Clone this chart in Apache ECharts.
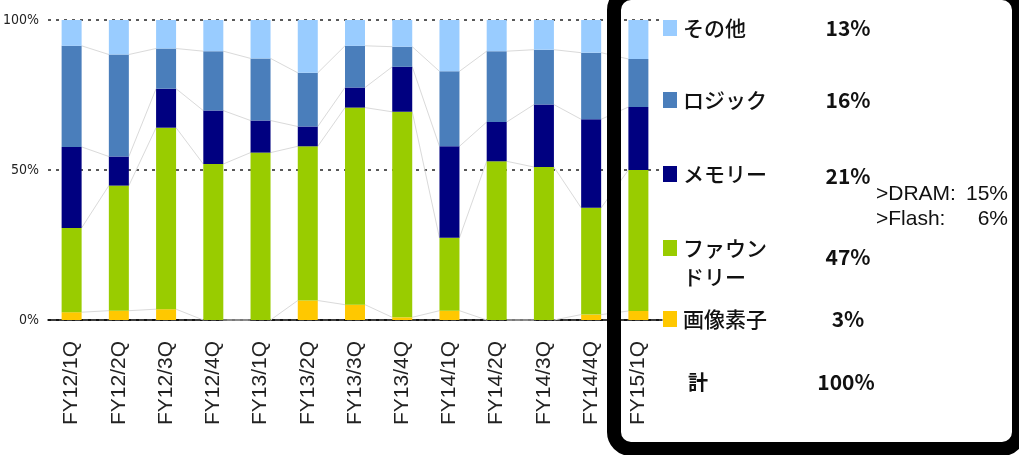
<!DOCTYPE html>
<html>
<head>
<meta charset="utf-8">
<script src="https://cdn.jsdelivr.net/npm/echarts@6/dist/echarts.min.js"></script>
<style>
html,body{margin:0;padding:0;background:#fff;}
#chart{width:1019px;height:455px;}
</style>
</head>
<body>
<div id="chart"></div>
<script>
// ---- data ----
const categories = ['FY12/1Q','FY12/2Q','FY12/3Q','FY12/4Q','FY13/1Q','FY13/2Q','FY13/3Q','FY13/4Q','FY14/1Q','FY14/2Q','FY14/3Q','FY14/4Q','FY15/1Q'];
const seriesNames = ['画像素子','ファウンドリー','メモリー','ロジック','その他'];
const imaging = [2.6, 3.1, 3.6, 0, 0, 6.5, 5.1, 0.9, 3.1, 0, 0, 1.8, 3];
const foundry = [28.1, 41.7, 60.5, 52.0, 55.8, 51.4, 65.7, 68.5, 24.3, 52.9, 51.0, 35.6, 47];
const memory  = [27.0, 9.7, 13.0, 17.8, 10.7, 6.6, 6.7, 15.0, 30.5, 13.1, 20.8, 29.5, 21];
const logic   = [33.7, 34.0, 13.4, 19.8, 20.7, 17.9, 13.9, 6.7, 25.0, 23.6, 18.3, 22.2, 16];
const other   = [8.6, 11.5, 9.5, 10.4, 12.8, 17.6, 8.6, 8.9, 17.1, 10.4, 9.9, 10.9, 13];
const memorySplitLabels = ['>DRAM:', '>Flash:'];
const memorySplitValues = [15, 6];
const yTicks = [0, 50, 100];

// ---- build ----
const colors = ['#FFC800', '#99CC00', '#000080', '#4A7EBB', '#99CCFF'];
const stack = [imaging, foundry, memory, logic, other];
const BAR_W = 20;

const cum = categories.map((_, i) => { let s = 0; return stack.map(a => (s += a[i])); });
const linkData = [];
for (let i = 0; i < categories.length - 1; i++) {
  linkData.push([i].concat(cum[i].slice(0, 4), cum[i + 1].slice(0, 4)));
}

const barSeries = stack.map((arr, k) => ({
  name: seriesNames[k],
  type: 'bar',
  stack: 'total',
  barWidth: BAR_W,
  data: arr,
  itemStyle: { color: colors[k] },
  z: 3
}));

const linkSeries = {
  type: 'custom',
  data: linkData,
  encode: { x: 0, y: 1 },
  silent: true,
  z: 1,
  renderItem(params, api) {
    const i = api.value(0);
    const children = [];
    for (let b = 0; b < 4; b++) {
      const p1 = api.coord([i, api.value(1 + b)]);
      const p2 = api.coord([i + 1, api.value(5 + b)]);
      children.push({
        type: 'line',
        shape: { x1: p1[0] + BAR_W / 2, y1: p1[1], x2: p2[0] - BAR_W / 2, y2: p2[1] },
        style: { stroke: '#dadada', lineWidth: 1 }
      });
    }
    return { type: 'group', children };
  }
};

// legend (graphic)
const last = categories.length - 1;
const legendRows = [
  { k: 4, lines: ['その他'], y: 28, py: 28 },
  { k: 3, lines: ['ロジック'], y: 100, py: 100 },
  { k: 2, lines: ['メモリー'], y: 174, py: 176 },
  { k: 1, lines: ['ファウン', 'ドリー'], y: 248, py: 257 },
  { k: 0, lines: ['画像素子'], y: 319, py: 319 }
];
const jpFont = '"Noto Sans CJK JP", sans-serif';
const graphics = [];
legendRows.forEach(r => {
  graphics.push({ type: 'rect', z: 50, shape: { x: 663, y: r.y - 8, width: 14, height: 16 }, style: { fill: colors[r.k] } });
  r.lines.forEach((t, j) => {
    graphics.push({ type: 'text', z: 50, x: 683, y: r.y + j * 29,
      style: { text: t, font: '500 21px ' + jpFont, fill: '#111', align: 'left', verticalAlign: 'middle', textAlign: 'left', textVerticalAlign: 'middle' } });
  });
  graphics.push({ type: 'text', z: 50, x: 848, y: r.py,
    style: { text: Math.round(stack[r.k][last]) + '%', font: 'bold 21px ' + jpFont, fill: '#111', align: 'center', verticalAlign: 'middle', textAlign: 'center', textVerticalAlign: 'middle' } });
});
const total = stack.reduce((s, a) => s + a[last], 0);
graphics.push({ type: 'text', z: 50, x: 688, y: 382,
  style: { text: '計', font: 'bold 20px ' + jpFont, fill: '#111', align: 'left', verticalAlign: 'middle', textAlign: 'left', textVerticalAlign: 'middle' } });
graphics.push({ type: 'text', z: 50, x: 846, y: 382,
  style: { text: Math.round(total) + '%', font: 'bold 21px ' + jpFont, fill: '#111', align: 'center', verticalAlign: 'middle', textAlign: 'center', textVerticalAlign: 'middle' } });
memorySplitLabels.forEach((lab, j) => {
  graphics.push({ type: 'text', z: 50, x: 876, y: 194 + j * 25,
    style: { text: lab, font: '21px "Liberation Sans", Arial, sans-serif', fill: '#111', align: 'left', verticalAlign: 'middle', textAlign: 'left', textVerticalAlign: 'middle' } });
  graphics.push({ type: 'text', z: 50, x: j === 0 ? 966 : 1008, y: 194 + j * 25,
    style: { text: memorySplitValues[j] + '%', font: '21px "Liberation Sans", Arial, sans-serif', fill: '#111', align: j === 0 ? 'left' : 'right', verticalAlign: 'middle', textAlign: j === 0 ? 'left' : 'right', textVerticalAlign: 'middle' } });
});
// panel frame
graphics.push({ type: 'rect', z: 60, shape: { x: 614, y: -7, width: 405, height: 456, r: 17 },
  style: { fill: 'none', stroke: '#000', lineWidth: 14 } });

const chart = echarts.init(document.getElementById('chart'), null, { renderer: 'canvas' });
chart.setOption({
  animation: false,
  backgroundColor: '#fff',
  grid: { left: 46, right: 357, top: 20, bottom: 135 },
  xAxis: {
    type: 'category',
    data: categories,
    axisTick: { show: false },
    axisLine: { lineStyle: { color: '#000', width: 1.5 } },
    axisLabel: { rotate: 90, margin: 21, fontSize: 21, color: '#222', fontFamily: '"Liberation Sans", Arial, sans-serif', interval: 0 }
  },
  yAxis: {
    type: 'value',
    min: yTicks[0],
    max: yTicks[yTicks.length - 1],
    interval: yTicks[1] - yTicks[0],
    axisLine: { show: false },
    axisTick: { show: false },
    axisLabel: { formatter: '{value}%', fontSize: 14, color: '#222', margin: 9, fontFamily: '"Liberation Sans Narrow", "DejaVu Sans Condensed", sans-serif' },
    splitLine: { show: true, lineStyle: { color: '#222', width: 1.5, type: [3, 5] } }
  },
  series: barSeries.concat([linkSeries]),
  graphic: graphics
});
</script>
</body>
</html>
